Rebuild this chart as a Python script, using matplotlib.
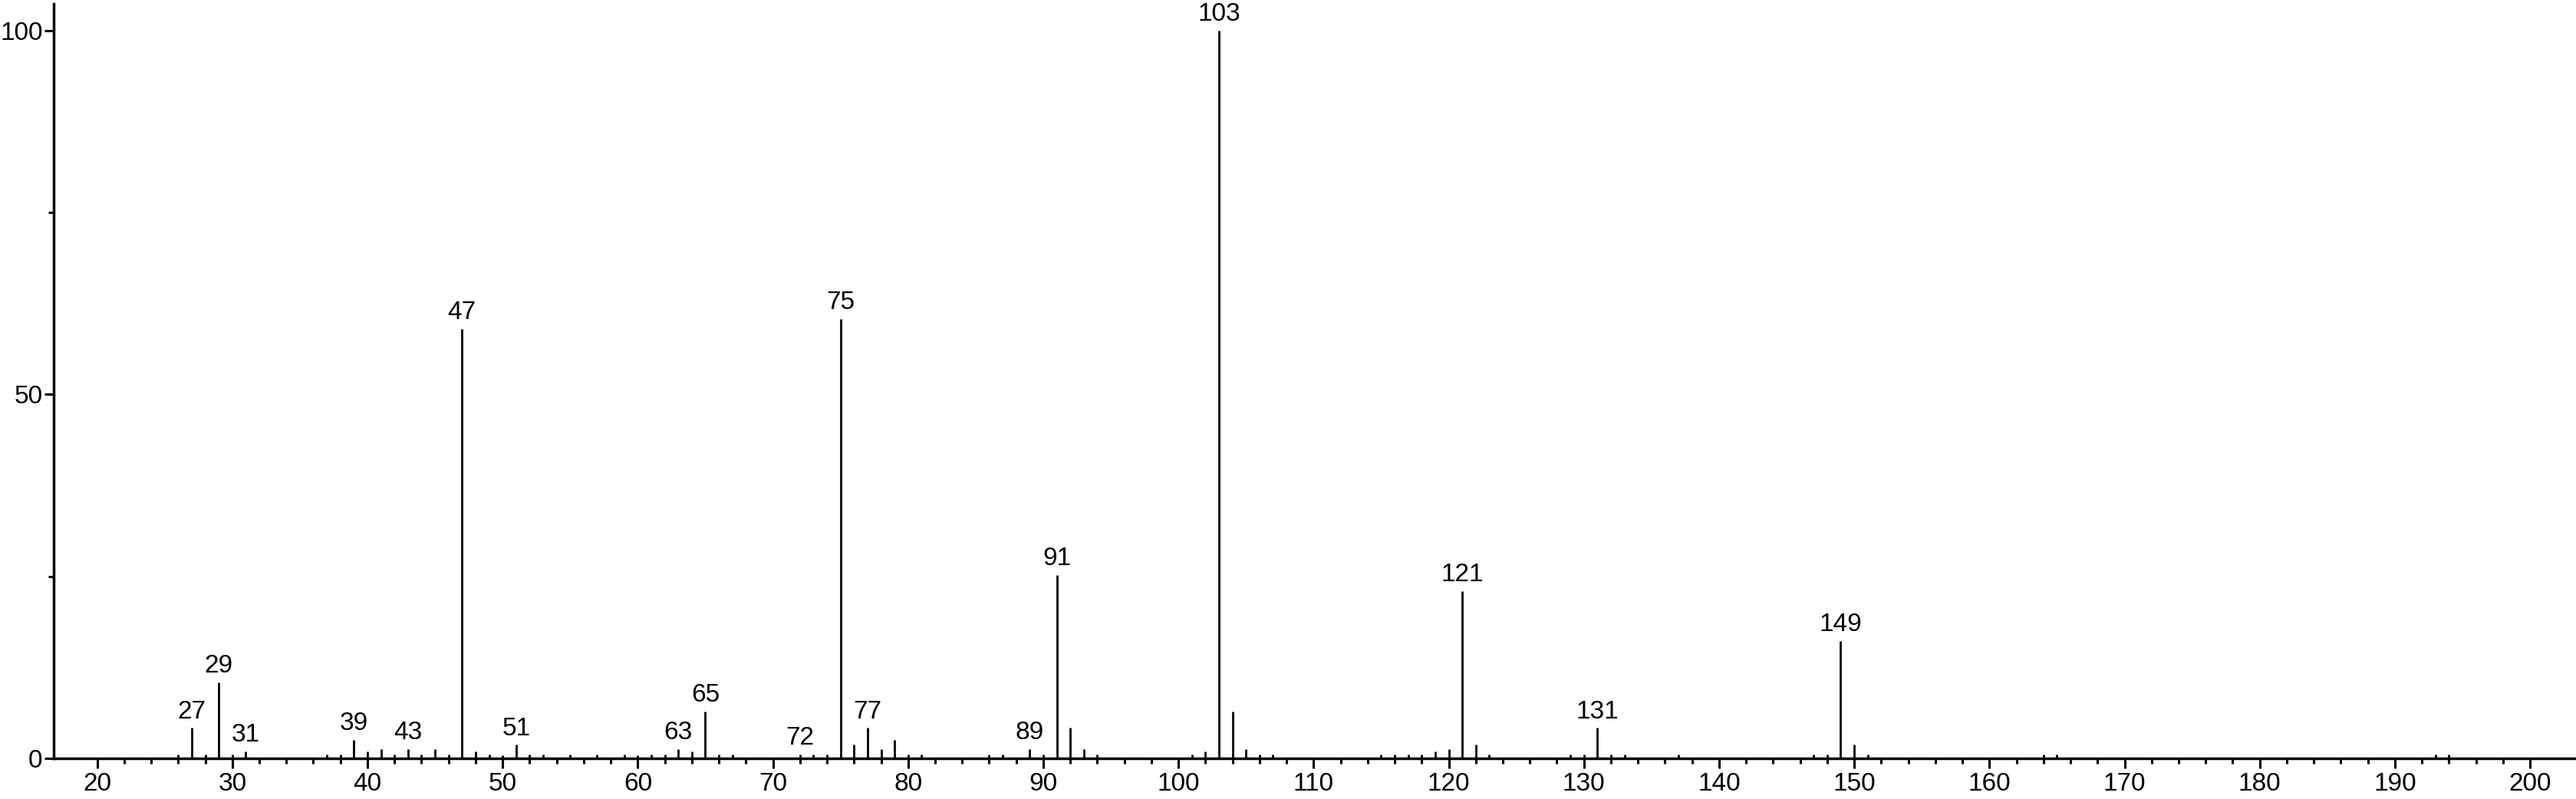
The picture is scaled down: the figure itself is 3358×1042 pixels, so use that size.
import matplotlib
matplotlib.use("Agg")
import matplotlib.pyplot as plt
from matplotlib.ticker import FixedLocator

plt.rcParams['font.family'] = ['Liberation Sans', 'DejaVu Sans']

# mass spectrum: m/z and relative intensity (%)
mz = [26, 27, 28, 29, 30, 31, 37, 38, 39, 40, 41, 42, 43, 44, 45, 46, 47, 48, 49, 50,
      51, 52, 53, 55, 57, 59, 60, 61, 62, 63, 64, 65, 66, 67, 72, 73, 74, 75, 76, 77,
      78, 79, 80, 81, 86, 87, 89, 90, 91, 92, 93, 94, 101, 102, 103, 104, 105, 106, 107,
      115, 116, 117, 118, 119, 120, 121, 122, 123, 129, 130, 131, 132, 133, 137,
      147, 148, 149, 150, 151, 164, 165, 193, 194]
intensity = [0.6, 4.2, 0.6, 10.5, 0.6, 1.0, 0.6, 0.6, 2.6, 1.0, 1.3, 0.6, 1.3, 0.6, 1.3, 0.6, 59.0, 1.0, 0.6, 0.5,
             1.9, 0.6, 0.6, 0.6, 0.6, 0.6, 0.5, 0.6, 0.6, 1.3, 1.0, 6.5, 0.6, 0.6, 0.6, 0.6, 0.6, 60.4, 1.9, 4.2,
             1.3, 2.6, 0.6, 0.6, 0.6, 0.6, 1.3, 0.6, 25.2, 4.2, 1.3, 0.6, 0.6, 1.0, 100.0, 6.5, 1.3, 0.6, 0.6,
             0.6, 0.6, 0.6, 0.6, 1.0, 1.3, 23.0, 1.9, 0.6, 0.6, 0.6, 4.2, 0.6, 0.6, 0.6,
             0.6, 0.6, 16.2, 1.9, 0.6, 0.6, 0.6, 0.6, 0.6]

# peaks that carry an m/z label
labeled = [27, 29, 31, 39, 43, 47, 51, 63, 65, 72, 75, 77, 89, 91, 103, 121, 131, 149]

x_major = list(range(20, 201, 10))
x_minor = [v for v in range(22, 200, 2) if v % 10 != 0]
y_major = [0, 50, 100]
y_minor = [25, 75]

fig = plt.figure(figsize=(33.58, 10.42), dpi=100)
ax = fig.add_axes([0.0209, 0.0505, 0.9791, 0.9444])

ax.vlines(mz, 0, intensity, colors='black', linewidth=2.0)

for m, v in zip(mz, intensity):
    if m in labeled:
        ax.annotate(str(m), (m, v), xytext=(0, 4), textcoords='offset points',
                    ha='center', va='bottom', fontsize=24)

ax.set_xlim(16.8, 203.4)
ax.set_ylim(0, 103.6)

ax.xaxis.set_major_locator(FixedLocator(x_major))
ax.xaxis.set_minor_locator(FixedLocator(x_minor))
ax.yaxis.set_major_locator(FixedLocator(y_major))
ax.yaxis.set_minor_locator(FixedLocator(y_minor))

ax.tick_params(axis='both', which='major', labelsize=24, width=2.2, length=9, color='black')
ax.tick_params(axis='both', which='minor', width=2.2, length=5)
ax.tick_params(axis='x', which='major', pad=4)
ax.tick_params(axis='y', which='major', pad=1.5)

for side in ['top', 'right']:
    ax.spines[side].set_visible(False)
for side in ['left', 'bottom']:
    ax.spines[side].set_linewidth(2.5)

fig.savefig("out.png", dpi=100)
